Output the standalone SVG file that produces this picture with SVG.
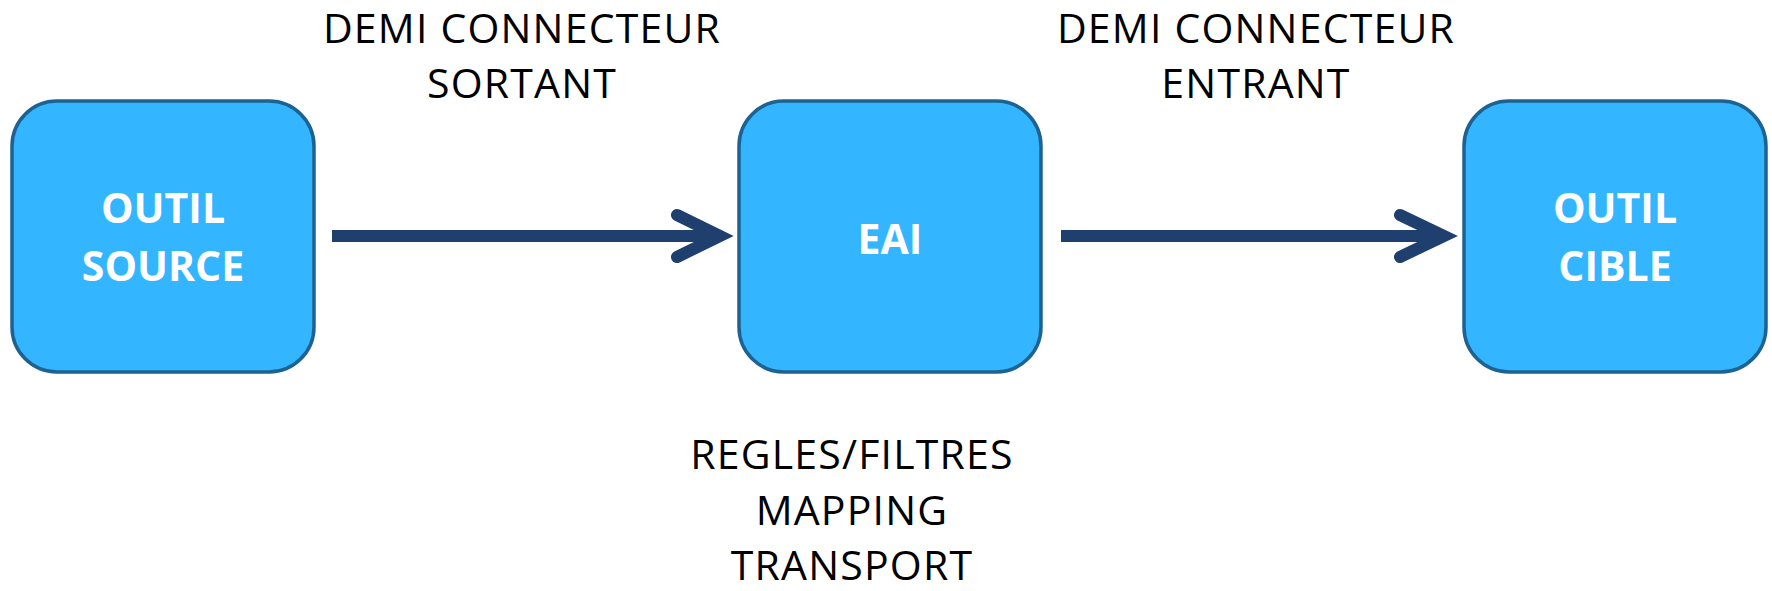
<svg xmlns="http://www.w3.org/2000/svg" width="1772" height="591" viewBox="0 0 1772 591">
<style>
.box{fill:#33B5FF;stroke:#1D6291;stroke-width:3.5}
.nt{font-family:"Open Sans","Liberation Sans",sans-serif;font-weight:bold;font-size:41px;fill:#fff;text-anchor:middle}
.lt{font-family:"Open Sans","Liberation Sans",sans-serif;font-size:41px;letter-spacing:1.2px;fill:#000;text-anchor:middle}
.ar{stroke:#1F3F6E;stroke-width:12;fill:none;stroke-linecap:round;stroke-linejoin:miter}
</style>
<rect width="1772" height="591" fill="#fff"/>
<g id="connectors">
<line class="ar" x1="332" y1="236" x2="718" y2="236" style="stroke-linecap:butt"/>
<polyline class="ar" points="677,215 720,236 677,257"/>
<line class="ar" x1="1061" y1="236" x2="1442" y2="236" style="stroke-linecap:butt"/>
<polyline class="ar" points="1400,215 1444,236 1400,257"/>
</g>
<g id="node-source">
<rect class="box" x="12" y="101" width="302" height="271" rx="45"/>
<text class="nt" x="163" y="223">OUTIL</text>
<text class="nt" x="163" y="281">SOURCE</text>
</g>
<g id="node-eai">
<rect class="box" x="739" y="101" width="302" height="271" rx="45"/>
<text class="nt" x="890" y="254">EAI</text>
</g>
<g id="node-cible">
<rect class="box" x="1464" y="101" width="302" height="271" rx="45"/>
<text class="nt" x="1615" y="223">OUTIL</text>
<text class="nt" x="1615" y="281">CIBLE</text>
</g>
<g id="label-sortant">
<text class="lt" x="522" y="43">DEMI CONNECTEUR</text>
<text class="lt" x="522" y="98">SORTANT</text>
</g>
<g id="label-entrant">
<text class="lt" x="1256" y="43">DEMI CONNECTEUR</text>
<text class="lt" x="1256" y="98">ENTRANT</text>
</g>
<g id="label-eai">
<text class="lt" x="852" y="469">REGLES/FILTRES</text>
<text class="lt" x="852" y="525">MAPPING</text>
<text class="lt" x="852" y="580">TRANSPORT</text>
</g>
</svg>
